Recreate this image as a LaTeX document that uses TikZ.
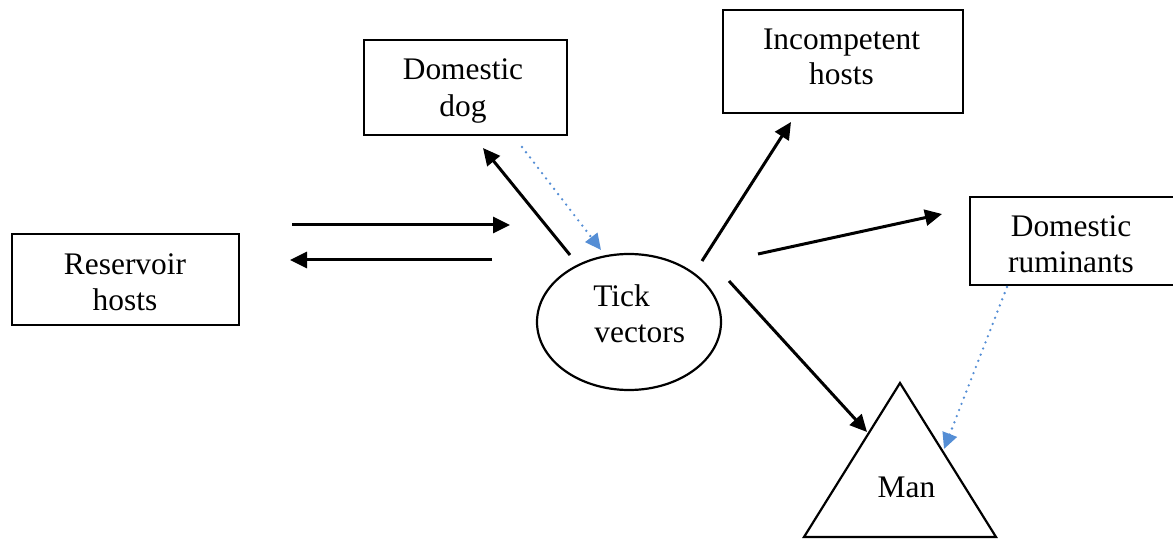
\documentclass[tikz,border=0pt]{standalone}
\usepackage{fontspec}
\setmainfont{Liberation Serif}
\usetikzlibrary{arrows.meta}
\definecolor{dotblue}{RGB}{85,142,213}
\begin{document}
\begin{tikzpicture}[x=0.5pt,y=-0.5pt,
  every node/.style={font=\fontsize{15.7}{18.3}\selectfont,inner sep=0pt},
  lbl/.style={anchor=base},
  outline/.style={draw,line width=1.1pt},
  solidarrow/.style={line width=1.5pt,-{Triangle[length=8.5pt,width=8pt]}},
  dotarrow/.style={dotblue,line width=1.3pt,line cap=round,dash pattern=on 0pt off 3.3pt,-{Triangle[length=8pt,width=7.5pt]}}]
\useasboundingbox (0,0) rectangle (1173,539);
% boxes
\draw[outline] (12,234) rectangle (239,325);
\node[lbl] (res1) at (125,275) {Reservoir};
\node[lbl] (res2) at (125,311) {hosts};
\draw[outline] (364,40) rectangle (567,135);
\node[lbl] (dog1) at (463,80) {Domestic};
\node[lbl] (dog2) at (463,117) {dog};
\draw[outline] (723,10) rectangle (963,113);
\node[lbl] (inc1) at (841.5,50) {Incompetent};
\node[lbl] (inc2) at (841.5,85) {hosts};
\draw[outline] (970,197) rectangle (1180,285);
\node[lbl] (rum1) at (1071,237) {Domestic};
\node[lbl] (rum2) at (1071,273) {ruminants};
% ellipse
\draw[outline] (629,322) ellipse [x radius=92, y radius=68];
\node[anchor=base west] (tick1) at (593,307) {Tick};
\node[anchor=base west] (tick2) at (594,343) {vectors};
% triangle
\coordinate (mtop) at (900,383);
\coordinate (mleft) at (804,537);
\coordinate (mright) at (996,537);
\draw[outline,line join=miter] (mtop) -- (mleft) -- (mright) -- cycle;
\node[lbl] (man) at (906.5,498) {Man};
% arrow endpoints
\coordinate (a1s) at (292,225); \coordinate (a1e) at (510,225);
\coordinate (a2s) at (492,260); \coordinate (a2e) at (290,260);
\coordinate (a3s) at (570,255); \coordinate (a3e) at (483,148);
\coordinate (a4s) at (522,147); \coordinate (a4e) at (601,250);
\coordinate (a5s) at (702,261); \coordinate (a5e) at (791,122);
\coordinate (a6s) at (758,254); \coordinate (a6e) at (942,214);
\coordinate (a7s) at (729,281); \coordinate (a7e) at (867,432);
\coordinate (a8s) at (1007,287); \coordinate (a8e) at (944,449);
\draw[solidarrow] (a1s) -- (a1e);
\draw[solidarrow] (a2s) -- (a2e);
\draw[solidarrow] (a3s) -- (a3e);
\draw[dotarrow] (a4s) -- (a4e);
\draw[solidarrow] (a5s) -- (a5e);
\draw[solidarrow] (a6s) -- (a6e);
\draw[solidarrow] (a7s) -- (a7e);
\draw[dotarrow] (a8s) -- (a8e);
\end{tikzpicture}
\end{document}
